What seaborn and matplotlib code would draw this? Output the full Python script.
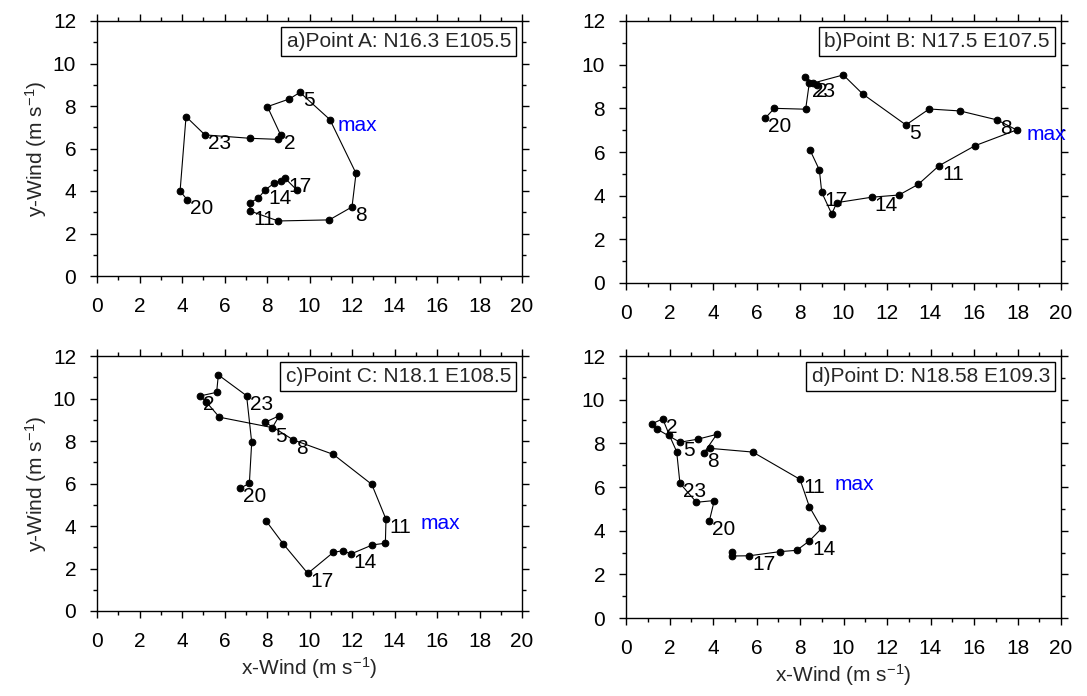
import numpy as np
import pandas as pd
import matplotlib
matplotlib.use("Agg")
import matplotlib.pyplot as plt
import seaborn as sns
from matplotlib.ticker import MultipleLocator

sns.set_style("ticks")
plt.rcParams["font.family"] = ["Liberation Sans", "DejaVu Sans"]
plt.rcParams["mathtext.fontset"] = "custom"
plt.rcParams["mathtext.rm"] = "Liberation Sans"
plt.rcParams["mathtext.it"] = "Liberation Sans:italic"
plt.rcParams["mathtext.bf"] = "Liberation Sans:bold"

# ---- data (hourly wind vectors, starting at hour 20) ----
hours_a = [20, 21, 22, 23, 0, 1, 2, 3, 4, 5, 6, 7, 8, 9, 10, 11, 12, 13, 14, 15, 16, 17, 18]
hours_full = [20, 21, 22, 23, 0, 1, 2, 3, 4, 5, 6, 7, 8, 9, 10, 11, 12, 13, 14, 15, 16, 17, 18, 19]

a_x = [4.25, 3.91, 4.19, 5.08, 7.20, 8.53, 8.64, 8.02, 9.05, 9.55, 10.96, 12.19, 12.00,
       10.93, 8.53, 7.20, 7.20, 7.59, 7.91, 8.33, 8.64, 8.85, 9.40]
a_y = [3.58, 4.00, 7.50, 6.64, 6.48, 6.43, 6.64, 7.97, 8.33, 8.64, 7.36, 4.83, 3.25,
       2.64, 2.59, 3.06, 3.45, 3.66, 4.05, 4.36, 4.49, 4.60, 4.05]

b_x = [6.39, 6.82, 8.26, 8.43, 8.23, 8.80, 8.58, 9.99, 10.88, 12.87, 13.94, 15.36, 17.06,
       17.96, 16.05, 14.39, 13.44, 12.55, 11.30, 9.69, 9.46, 9.00, 8.89, 8.46]
b_y = [7.54, 8.00, 7.96, 9.18, 9.42, 9.07, 9.15, 9.53, 8.66, 7.24, 7.97, 7.88, 7.47,
       7.01, 6.29, 5.37, 4.52, 4.03, 3.93, 3.68, 3.16, 4.15, 5.18, 6.09]

c_x = [6.73, 7.17, 7.28, 7.04, 5.71, 5.63, 4.85, 5.13, 5.76, 8.25, 8.58, 7.91, 9.24,
       11.12, 12.93, 13.60, 13.57, 12.96, 11.94, 11.59, 11.12, 9.92, 8.77, 7.95]
c_y = [5.77, 6.01, 7.94, 10.13, 11.11, 10.29, 10.12, 9.85, 9.12, 8.63, 9.19, 8.88, 8.05,
       7.37, 5.96, 4.32, 3.19, 3.11, 2.68, 2.84, 2.76, 1.77, 3.15, 4.25]

d_x = [3.83, 4.06, 3.24, 2.48, 2.33, 1.99, 1.69, 1.18, 1.41, 2.48, 3.30, 4.17, 3.59,
       3.86, 5.83, 8.00, 8.43, 9.00, 8.43, 7.85, 7.08, 5.67, 4.86, 4.86]
d_y = [4.44, 5.38, 5.30, 6.17, 7.62, 8.38, 9.12, 8.89, 8.66, 8.05, 8.19, 8.41, 7.57,
       7.77, 7.60, 6.35, 5.10, 4.11, 3.53, 3.10, 3.04, 2.85, 2.84, 3.04]

titles = ["a)Point A: N16.3 E105.5", "b)Point B: N17.5 E107.5",
          "c)Point C: N18.1 E108.5", "d)Point D: N18.58 E109.3"]
labeled_hours = [2, 5, 8, 11, 14, 17, 20, 23]

x_ticks = list(range(0, 21, 2))
y_ticks = list(range(0, 13, 2))

panels = [
    dict(x=a_x, y=a_y, h=hours_a, title=titles[0], maxpos=(11.3, 7.1),
         rect=[97, 21, 425, 255], xlabel=False, ylabel=True),
    dict(x=b_x, y=b_y, h=hours_full, title=titles[1], maxpos=(18.4, 6.8),
         rect=[626, 21, 435, 262], xlabel=False, ylabel=False),
    dict(x=c_x, y=c_y, h=hours_full, title=titles[2], maxpos=(15.25, 4.1),
         rect=[97, 356, 425, 255], xlabel=True, ylabel=True),
    dict(x=d_x, y=d_y, h=hours_full, title=titles[3], maxpos=(9.6, 6.1),
         rect=[626, 356, 435, 262], xlabel=True, ylabel=False),
]

W, H = 1087, 696
fig = plt.figure(figsize=(W / 100, H / 100), dpi=100)
FS = 15

for p in panels:
    L, T, w, h = p["rect"]
    ax = fig.add_axes([L / W, 1 - (T + h) / H, w / W, h / H])
    df = pd.DataFrame({"u": p["x"], "v": p["y"], "hour": p["h"]})
    sns.lineplot(data=df, x="u", y="v", sort=False, estimator=None, ax=ax,
                 color="black", linewidth=0.8, marker="o", markersize=4.8,
                 markeredgecolor="black", markerfacecolor="black")
    for _, r in df.iterrows():
        if int(r["hour"]) in labeled_hours:
            ax.annotate(str(int(r["hour"])), (r["u"], r["v"]), xytext=(3, 1),
                        textcoords="offset pixels", ha="left", va="top",
                        fontsize=FS, color="black")
    ax.text(p["maxpos"][0], p["maxpos"][1], "max", color="blue", fontsize=FS,
            ha="left", va="center", clip_on=False)
    ax.text(1 - 11 / w, 1 - 11 / h, p["title"], transform=ax.transAxes,
            ha="right", va="top", fontsize=FS,
            bbox=dict(boxstyle="square,pad=0.25", fc="white", ec="black", lw=1.0))
    ax.set_xlim(0, 20)
    ax.set_ylim(0, 12)
    ax.set_xticks(x_ticks)
    ax.set_yticks(y_ticks)
    ax.xaxis.set_minor_locator(MultipleLocator(1))
    ax.yaxis.set_minor_locator(MultipleLocator(1))
    ax.tick_params(which="both", direction="out", top=True, right=True,
                   width=1.0, colors="black", labelsize=FS, pad=10)
    ax.tick_params(which="major", length=5)
    ax.tick_params(which="minor", length=3.2)
    for s in ax.spines.values():
        s.set_linewidth(1.0)
        s.set_color("black")
    ax.set_xlabel("x-Wind (m s$^{-1}$)" if p["xlabel"] else "", fontsize=FS, labelpad=3)
    ax.set_ylabel("y-Wind (m s$^{-1}$)" if p["ylabel"] else "", fontsize=FS, labelpad=3)

fig.savefig("out.png", dpi=100)
